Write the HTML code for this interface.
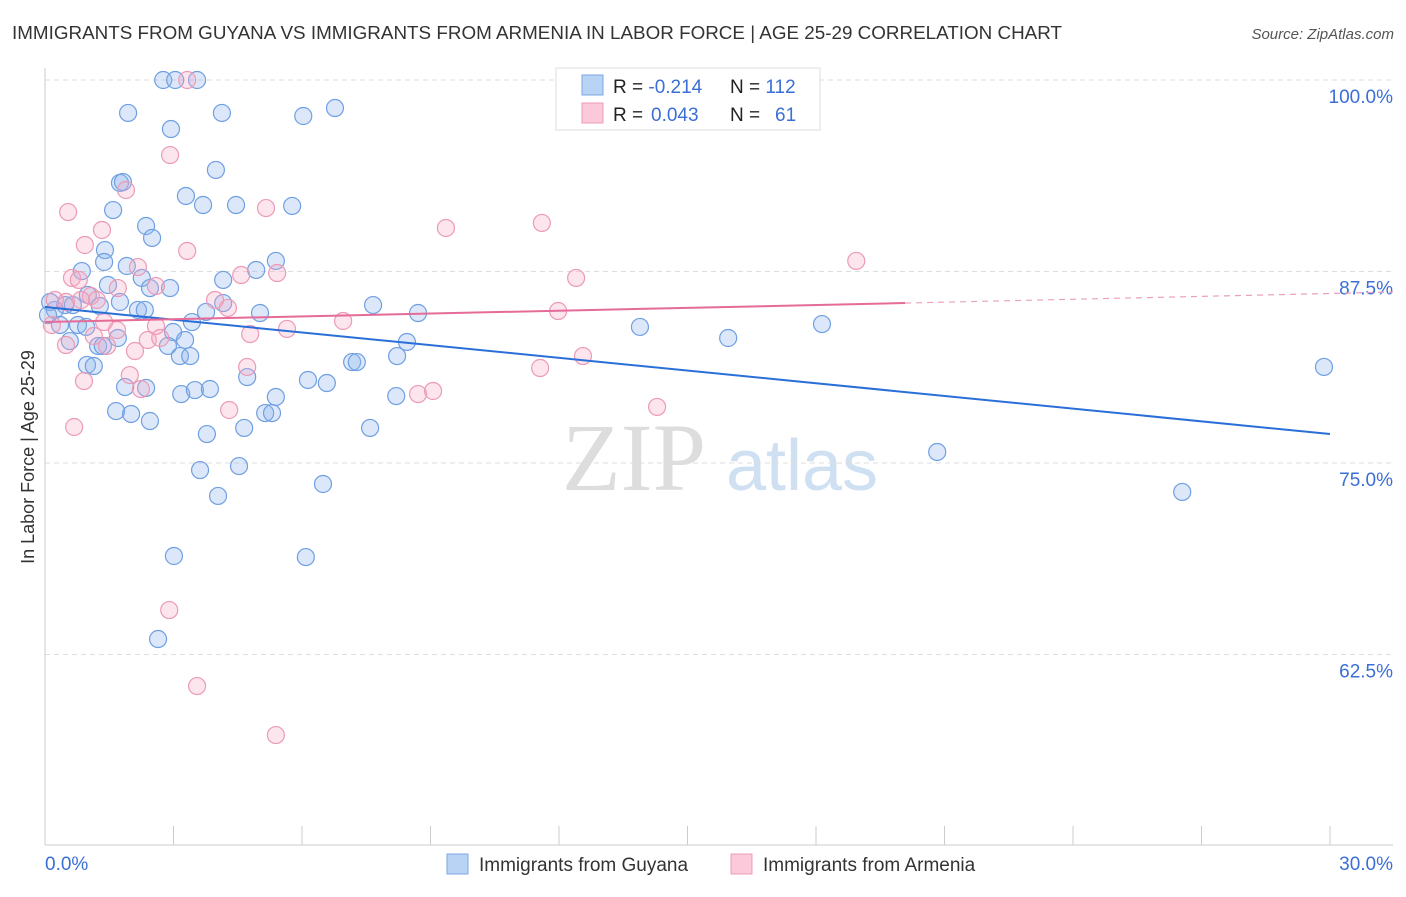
<!DOCTYPE html>
<html><head><meta charset="utf-8"><style>
body{margin:0;background:#fff;font-family:"Liberation Sans",sans-serif}
svg text{font-family:"Liberation Sans",sans-serif}
</style></head><body>
<svg id="c" width="1406" height="892">
<text x="12" y="39" font-size="18.5" fill="#333" textLength="1050" lengthAdjust="spacingAndGlyphs">IMMIGRANTS FROM GUYANA VS IMMIGRANTS FROM ARMENIA IN LABOR FORCE | AGE 25-29 CORRELATION CHART</text>
<text x="1394" y="39" font-size="15" fill="#555" font-style="italic" text-anchor="end">Source: ZipAtlas.com</text>
<text x="34" y="457" font-size="18" fill="#333" text-anchor="middle" transform="rotate(-90 34 457)">In Labor Force | Age 25-29</text>
<g><text x="634" y="490" font-size="96" fill="#ddd" text-anchor="middle" font-family="Liberation Serif" style="font-family:'Liberation Serif',serif">ZIP</text><text x="802" y="490" font-size="72" fill="#cfe0f3" text-anchor="middle">atlas</text></g>
<g id="grid"></g><g id="axes"></g><g id="pts"></g><g id="trend"></g>
<g>
<rect x="556" y="68" width="264" height="62" fill="#fff" stroke="#ddd"/>
<rect x="582" y="75" width="21" height="20" fill="#b9d3f5" stroke="#7aa7e6"/>
<rect x="582" y="103" width="21" height="20" fill="#fbc9da" stroke="#ee9cb8"/>
<text x="613" y="93" font-size="19" fill="#222">R = <tspan fill="#3b6fd6">-0.214</tspan><tspan x="730">N = </tspan><tspan fill="#3b6fd6">112</tspan></text>
<text x="613" y="121" font-size="19" fill="#222">R = <tspan fill="#3b6fd6" x="651">0.043</tspan><tspan x="730">N = </tspan><tspan fill="#3b6fd6" x="775">61</tspan></text>
</g>
<g>
<rect x="447" y="854" width="21" height="20" fill="#b9d3f5" stroke="#7aa7e6"/>
<text x="479" y="871" font-size="19" fill="#333">Immigrants from Guyana</text>
<rect x="731" y="854" width="21" height="20" fill="#fbc9da" stroke="#ee9cb8"/>
<text x="763" y="871" font-size="19" fill="#333">Immigrants from Armenia</text>
</g>
</svg>
<script>
const blueX=[2.76,3.04,3.55,1.94,2.94,4.13,6.03,6.77,3.99,1.75,1.82,3.29,3.69,4.46,5.77,1.59,2.36,2.50,1.40,0.86,1.38,1.91,2.26,2.92,1.47,2.45,4.16,4.93,5.39,1.75,2.17,2.33,3.76,4.16,5.02,7.66,8.71,3.43,2.99,3.27,2.87,3.15,3.39,1.70,1.24,1.35,0.98,1.14,0.58,0.35,0.77,0.96,0.47,0.65,0.23,0.12,0.07,1.00,1.28,8.45,8.22,7.17,7.28,6.14,6.58,4.72,1.87,2.36,3.18,3.50,3.85,5.39,5.14,5.30,1.66,2.01,2.45,3.78,4.65,7.59,8.2,3.62,4.53,4.04,6.49,3.01,6.09,2.64,13.89,15.95,18.14,20.83,26.55,29.86];
const blueY=[100,100,100,97.85,96.8,97.85,97.65,98.17,94.13,93.28,93.34,92.43,91.84,91.84,91.78,91.51,90.47,89.69,88.9,87.53,88.12,87.86,87.08,86.42,86.62,86.42,86.95,87.6,88.19,85.51,84.99,84.99,84.86,85.44,84.79,85.31,84.79,84.2,83.55,83.03,82.64,81.98,81.98,83.16,82.64,82.64,81.4,81.33,82.96,84.01,84.01,83.88,85.31,85.31,84.99,85.51,84.66,85.97,85.25,82.9,81.98,81.59,81.59,80.42,80.22,80.61,79.96,79.9,79.5,79.76,79.83,79.31,78.26,78.26,78.39,78.2,77.74,76.89,77.29,77.29,79.37,74.54,74.8,72.85,73.63,68.93,68.86,63.51,83.88,83.16,84.07,75.72,73.11,81.27];
const pinkX=[3.32,2.92,1.89,0.54,1.33,0.93,3.32,5.16,9.36,11.6,2.17,0.63,0.79,2.59,1.70,4.58,5.42,12.4,18.94,3.97,4.27,1.07,1.21,0.84,0.49,0.23,0.16,1.38,2.59,2.40,6.96,5.65,4.79,11.98,1.14,0.49,1.45,2.10,4.72,12.56,1.98,0.91,2.24,11.56,8.71,9.06,4.30,14.29,0.68,2.90,3.55,5.39,2.69,1.68];
const pinkY=[100,95.1,92.82,91.38,90.21,89.23,88.84,91.64,90.34,90.67,87.79,87.08,86.95,86.55,86.42,87.27,87.4,87.08,88.19,85.64,85.12,85.9,85.64,85.64,85.51,85.64,84.01,84.2,83.94,83.03,84.27,83.75,83.42,84.92,83.29,82.7,82.64,82.31,81.27,81.98,80.74,80.35,79.83,81.2,79.5,79.7,78.46,78.66,77.35,65.4,60.44,57.24,83.16,83.68];
const yTicks=[100,87.5,75,62.5];
const yTickLabels=["100.0%","87.5%","75.0%","62.5%"];
const xTicks=[0,3,6,9,12,15,18,21,24,27,30];
const blueTrend=[[0,85.18],[30,76.89]];
const pinkTrend=[[0,84.2],[20.08,85.44]];
const pinkTrendExt=[[20.08,85.44],[31.47,86.16]];
const NS="http://www.w3.org/2000/svg";
const sx=v=>45+v*42.833, sy=v=>80+(100-v)*15.32;
function mk(tag,at,parent){const e=document.createElementNS(NS,tag);for(const k in at)e.setAttribute(k,at[k]);parent.appendChild(e);return e;}
const grid=document.getElementById('grid'),axes=document.getElementById('axes'),pts=document.getElementById('pts'),tr=document.getElementById('trend');
yTicks.forEach((t,i)=>{
 const l=mk('line',{x1:45,x2:1393,y1:sy(t),y2:sy(t),stroke:'#ddd','stroke-dasharray':'5,4'},grid);
 
 
 const tx=mk('text',{x:1393,y:sy(t)+23,'font-size':19,fill:'#3b6fd6','text-anchor':'end'},grid);
 tx.textContent=yTickLabels[i];
 
 
});
const ya=mk('line',{x1:45,x2:45,y1:68,y2:845,stroke:'#ccc'},axes);


const xa=mk('line',{x1:45,x2:1393,y1:845,y2:845,stroke:'#ccc'},axes);


xTicks.forEach(t=>{
 const l=mk('line',{x1:sx(t),x2:sx(t),y1:826,y2:845,stroke:'#ccc'},axes);
 
 
});
const xl0=mk('text',{x:45,y:870,'font-size':19,fill:'#3b6fd6'},axes);xl0.textContent='0.0%';


const xl1=mk('text',{x:1393,y:870,'font-size':19,fill:'#3b6fd6','text-anchor':'end'},axes);xl1.textContent='30.0%';


blueX.forEach((x,i)=>{
 const c=mk('circle',{cx:sx(x),cy:sy(blueY[i]),r:8.5,fill:'rgba(140,180,235,0.3)',stroke:'#6f9fe3','stroke-width':1.2},pts);
 
 
});
pinkX.forEach((x,i)=>{
 const c=mk('circle',{cx:sx(x),cy:sy(pinkY[i]),r:8.5,fill:'rgba(245,170,195,0.3)',stroke:'#ec9ab7','stroke-width':1.2},pts);
 
 
});
const bt=mk('line',{x1:sx(blueTrend[0][0]),y1:sy(blueTrend[0][1]),x2:sx(blueTrend[1][0]),y2:sy(blueTrend[1][1]),stroke:'#2a6fd8','stroke-width':2},tr);


const pt=mk('line',{x1:sx(pinkTrend[0][0]),y1:sy(pinkTrend[0][1]),x2:sx(pinkTrend[1][0]),y2:sy(pinkTrend[1][1]),stroke:'#e56b98','stroke-width':2},tr);


const pe=mk('line',{x1:sx(pinkTrendExt[0][0]),y1:sy(pinkTrendExt[0][1]),x2:sx(pinkTrendExt[1][0]),y2:sy(pinkTrendExt[1][1]),stroke:'#eaa0bb','stroke-width':1.2,'stroke-dasharray':'6,5'},tr);


</script>
</body></html>
